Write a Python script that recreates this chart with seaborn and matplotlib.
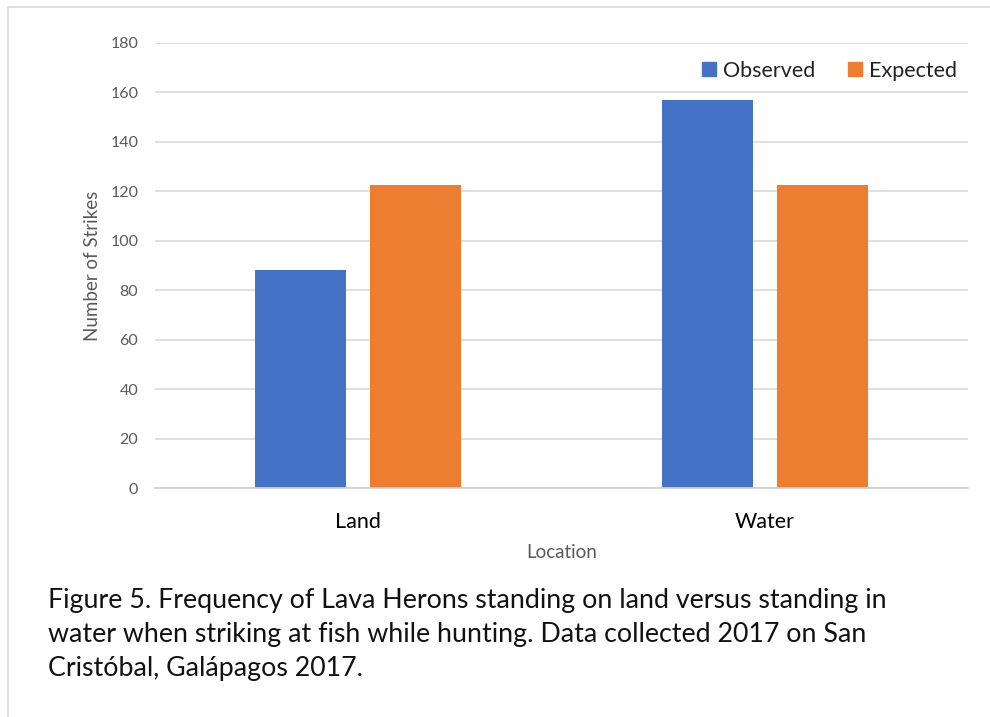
import matplotlib
matplotlib.use("Agg")
import matplotlib.pyplot as plt
from matplotlib.lines import Line2D
import seaborn as sns
import pandas as pd

# Strike counts by heron position
locations = ["Land", "Water"]
observed = [88, 157]
expected = [122.5, 122.5]
series_names = ["Observed", "Expected"]
series_colors = ["#4472C4", "#ED7D31"]
y_ticks = [0, 20, 40, 60, 80, 100, 120, 140, 160, 180]

caption = ("Figure 5. Frequency of Lava Herons standing on land versus standing in\n"
           "water when striking at fish while hunting. Data collected 2017 on San\n"
           "Cristóbal, Galápagos 2017.")

df = pd.DataFrame({
    "Location": locations * 2,
    "Strikes": observed + expected,
    "Series": [series_names[0]] * len(locations) + [series_names[1]] * len(locations),
})

sns.set_theme(style="white")
plt.rcParams["font.family"] = ["Lato", "DejaVu Sans"]

W, H = 990, 717
fig = plt.figure(figsize=(W / 100, H / 100), dpi=100)
ax = fig.add_axes([155 / W, 1 - 488 / H, (968 - 155) / W, (488 - 43) / H])

sns.barplot(data=df, x="Location", y="Strikes", hue="Series",
            palette=series_colors, saturation=1, width=0.566, gap=0.21,
            linewidth=0, ax=ax, legend=False)

ax.set_ylim(0, 180)
ax.set_yticks(y_ticks)
ax.set_xlim(-0.5, 1.5)
ax.yaxis.grid(True, color="#d9d9d9", linewidth=1.2)
ax.set_axisbelow(True)
for side in ["top", "right", "left"]:
    ax.spines[side].set_visible(False)
ax.spines["bottom"].set_color("#d0d0d0")
ax.spines["bottom"].set_linewidth(1.3)
ax.tick_params(axis="y", length=0, pad=12, labelsize=11.5, labelcolor="#595959")
ax.tick_params(axis="x", length=0, pad=17, labelsize=15.5, labelcolor="#000000")
ax.set_xlabel("Location", fontsize=13.5, color="#595959", labelpad=9)
ax.set_ylabel("Number of Strikes", fontsize=13.5, color="#595959", labelpad=7)

handles = [Line2D([0], [0], marker="s", linestyle="none", markersize=10,
                  markerfacecolor=c, markeredgecolor=c) for c in series_colors]
fig.legend(handles, series_names, loc="center", bbox_to_anchor=(829 / W, 1 - 71 / H),
           ncol=2, frameon=False, fontsize=15.5, handlelength=0.7,
           handletextpad=0.3, columnspacing=1.5, labelcolor="#222222")

fig.text(48 / W, 1 - 588 / H, caption, ha="left", va="top",
         fontsize=19.3, color="#111111", linespacing=1.45)

# light frame along the left and top edges
fig.add_artist(Line2D([8 / W, 8 / W], [0, 1 - 7 / H], color="#d9d9d9",
                      linewidth=1.2, transform=fig.transFigure))
fig.add_artist(Line2D([8 / W, 1], [1 - 7 / H, 1 - 7 / H], color="#d9d9d9",
                      linewidth=1.2, transform=fig.transFigure))

fig.savefig("out.png", dpi=100)
